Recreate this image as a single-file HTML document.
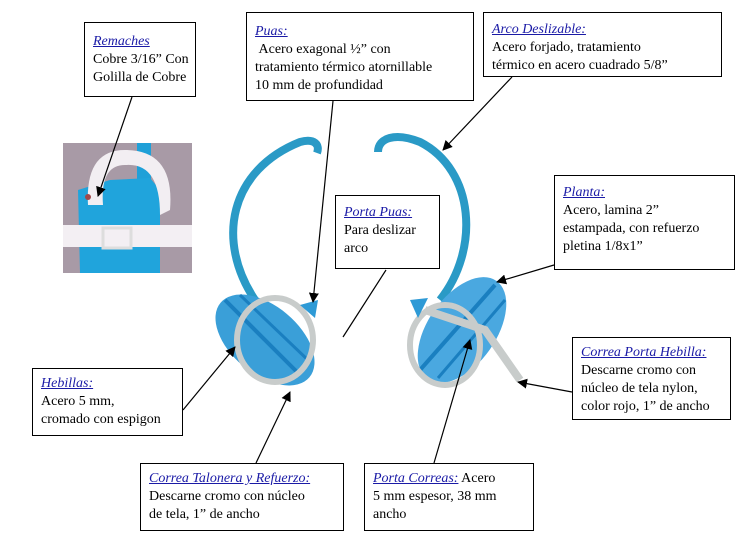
<!DOCTYPE html>
<html><head><meta charset="utf-8"><style>
html,body{margin:0;padding:0;background:#fff;width:755px;height:547px;overflow:hidden}
svg{position:absolute;left:0;top:0}
.b{position:absolute;border:1px solid #000;background:#fff;font-family:"Liberation Serif",serif;font-size:14px;line-height:18px;color:#000;padding:4px 8px;box-sizing:border-box;white-space:nowrap}
.t{color:#1a1aa6;font-style:italic;text-decoration:underline}
</style></head><body>
<svg width="755" height="547" viewBox="0 0 755 547">
<defs><marker id="a" markerWidth="10" markerHeight="10" refX="9" refY="5" orient="auto" markerUnits="userSpaceOnUse"><path d="M0,0 L10,5 L0,10z" fill="#000"/></marker></defs>
<rect x="63" y="143" width="129" height="130" fill="#a89aa6"/>
<rect x="137" y="143" width="14" height="130" fill="#1fa0d8"/>
<path d="M78,190 L110,180 L150,178 L160,190 L160,273 L80,273z" fill="#20a4dc"/>
<path d="M88,205 Q85,150 125,150 Q175,150 170,210 L160,215 Q160,162 125,165 Q100,165 103,205z" fill="#f2eef2"/>
<rect x="63" y="225" width="129" height="22" fill="#f3eff3"/>
<rect x="103" y="228" width="28" height="20" fill="none" stroke="#ddd" stroke-width="3"/>
<circle cx="88" cy="197" r="3" fill="#a0484a"/>
<path d="M255,300 C215,240 230,170 300,142 C315,138 320,145 317,153" fill="none" stroke="#2a9ac6" stroke-width="8"/>
<ellipse cx="265" cy="340" rx="58" ry="34" transform="rotate(40 265 340)" fill="#3a9fd8"/>
<path d="M225,300 L300,375" stroke="#1a7fc0" stroke-width="4"/>
<path d="M240,295 L310,362" stroke="#1a7fc0" stroke-width="3"/>
<ellipse cx="275" cy="340" rx="38" ry="42" fill="none" stroke="#c8cccb" stroke-width="6"/>
<path d="M300,305 L318,300 L315,318z" fill="#2e9ad6"/>
<path d="M440,300 C480,250 475,170 420,142 C395,132 378,138 378,152" fill="none" stroke="#2a9ac6" stroke-width="8"/>
<ellipse cx="462" cy="330" rx="60" ry="34" transform="rotate(-55 462 330)" fill="#4aa8e0"/>
<path d="M420,370 L495,285" stroke="#1a7fc0" stroke-width="4"/>
<path d="M438,378 L505,300" stroke="#1a7fc0" stroke-width="3"/>
<ellipse cx="445" cy="345" rx="35" ry="40" fill="none" stroke="#c8cccb" stroke-width="6"/>
<path d="M425,310 L485,330 L520,380" fill="none" stroke="#c8cccb" stroke-width="8"/>
<path d="M410,300 L428,298 L418,318z" fill="#2e9ad6"/>
<g stroke="#000" stroke-width="1.2" fill="none">
<line x1="132" y1="97" x2="98" y2="196" marker-end="url(#a)"/>
<line x1="333" y1="101" x2="313" y2="302" marker-end="url(#a)"/>
<line x1="512" y1="77" x2="443" y2="150" marker-end="url(#a)"/>
<line x1="386" y1="270" x2="343" y2="337"/>
<line x1="554" y1="265" x2="497" y2="282" marker-end="url(#a)"/>
<line x1="183" y1="410" x2="235" y2="347" marker-end="url(#a)"/>
<line x1="572" y1="392" x2="518" y2="382" marker-end="url(#a)"/>
<line x1="256" y1="463" x2="290" y2="392" marker-end="url(#a)"/>
<line x1="434" y1="463" x2="470" y2="340" marker-end="url(#a)"/>
</g>
</svg>
<div class="b" style="left:84px;top:22px;width:112px;height:75px;padding-top:10px"><span class="t">Remaches</span><br>Cobre 3/16” Con<br>Golilla de Cobre</div>
<div class="b" style="left:246px;top:12px;width:228px;height:89px;padding-top:10px"><span class="t">Puas:</span><br>&nbsp;Acero exagonal ½” con<br>tratamiento térmico atornillable<br>10 mm de profundidad</div>
<div class="b" style="left:483px;top:12px;width:239px;height:65px;padding-top:8px"><span class="t">Arco Deslizable:</span><br>Acero forjado, tratamiento<br>térmico en acero cuadrado 5/8”</div>
<div class="b" style="left:335px;top:195px;width:105px;height:74px;padding-top:8px"><span class="t">Porta Puas:</span><br>Para deslizar<br>arco</div>
<div class="b" style="left:554px;top:175px;width:181px;height:95px;padding-top:8px"><span class="t">Planta:</span><br>Acero, lamina 2”<br>estampada, con refuerzo<br>pletina 1/8x1”</div>
<div class="b" style="left:32px;top:368px;width:151px;height:68px;padding-top:6px"><span class="t">Hebillas:</span><br>Acero 5 mm,<br>cromado con espigon</div>
<div class="b" style="left:572px;top:337px;width:159px;height:83px;padding-top:6px"><span class="t">Correa Porta Hebilla:</span><br>Descarne cromo con<br>núcleo de tela nylon,<br>color rojo, 1” de ancho</div>
<div class="b" style="left:140px;top:463px;width:204px;height:68px;padding-top:6px"><span class="t">Correa Talonera y Refuerzo:</span><br>Descarne cromo con núcleo<br>de tela, 1” de ancho</div>
<div class="b" style="left:364px;top:463px;width:170px;height:68px;padding-top:6px"><span class="t">Porta Correas:</span> Acero<br>5 mm espesor, 38 mm<br>ancho</div>
</body></html>
